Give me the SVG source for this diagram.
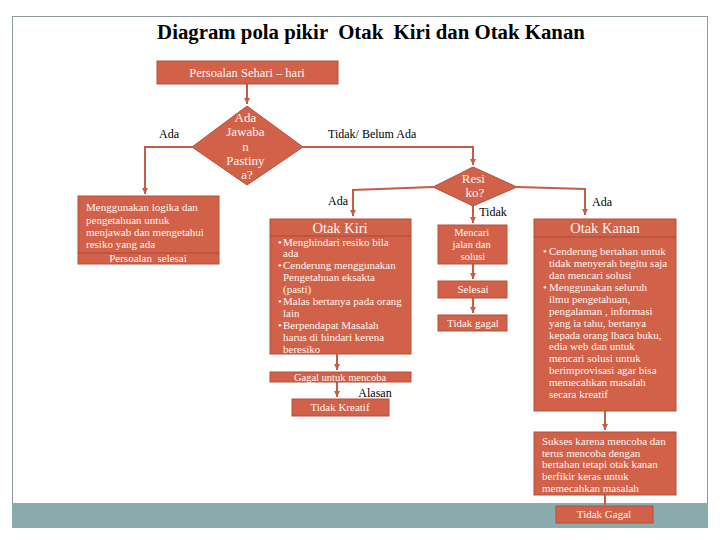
<svg xmlns="http://www.w3.org/2000/svg" width="720" height="540" viewBox="0 0 720 540">
<style>
text{font-family:"Liberation Serif","Times New Roman",serif}
.box{fill:#D2614A;stroke:#B4513B;stroke-width:1}
.div{stroke:#A9483A;stroke-width:1}
.wt{fill:#FFF6EF}
.lb{fill:#000;font-size:12px}
.con{fill:none;stroke:#C25E48;stroke-width:2}
</style>
<defs>
<marker id="ar" markerUnits="userSpaceOnUse" markerWidth="8" markerHeight="8" refX="6" refY="4" orient="auto">
<path d="M0,1 L6,4 L0,7 Z" fill="#C25E48"/>
</marker>
</defs>
<rect width="720" height="540" fill="#fff"/>
<rect x="12.5" y="16.5" width="695" height="511" fill="none" stroke="#8E9A9A" stroke-width="1"/>
<rect x="12" y="503" width="696" height="25" fill="#8AABAB"/>
<text x="371" y="39" text-anchor="middle" font-weight="bold" font-size="20.8" fill="#000" xml:space="preserve">Diagram pola pikir  Otak  Kiri dan Otak Kanan</text>

<g id="connectors">
<path class="con" d="M247,84 V104" marker-end="url(#ar)"/>
<path class="con" d="M192,147 H145 V194" marker-end="url(#ar)"/>
<path class="con" d="M303,147 H473 V165" marker-end="url(#ar)"/>
<path class="con" d="M433,187 L353,190 V216" marker-end="url(#ar)"/>
<path class="con" d="M517,187 L585,189 V215" marker-end="url(#ar)"/>
<path class="con" d="M473,206 V223" marker-end="url(#ar)"/>
<path class="con" d="M473,264 V279" marker-end="url(#ar)"/>
<path class="con" d="M473,298 V313" marker-end="url(#ar)"/>
<path class="con" d="M337,354 V370" marker-end="url(#ar)"/>
<path class="con" d="M337,382 V397" marker-end="url(#ar)"/>
<path class="con" d="M605,411 V430" marker-end="url(#ar)"/>
<path class="con" d="M605,495 V505"/>
<text class="lb" x="169" y="138" text-anchor="middle">Ada</text>
<text class="lb" x="328" y="138">Tidak/ Belum Ada</text>
<text class="lb" x="338" y="205" text-anchor="middle">Ada</text>
<text class="lb" x="602" y="206" text-anchor="middle">Ada</text>
<text class="lb" x="493" y="216" text-anchor="middle">Tidak</text>
<text class="lb" x="375" y="397" text-anchor="middle" font-size="11">Alasan</text>
</g>

<g id="persoalan">
<rect class="box" x="157" y="61" width="181" height="23"/>
<text class="wt" x="247" y="77" text-anchor="middle" font-size="12.5">Persoalan Sehari – hari</text>
</g>

<g id="jawaban">
<polygon class="box" points="247,106 303,147 247,185 192,147"/>
<text class="wt" font-size="13" text-anchor="middle">
<tspan x="247" y="122">Ada</tspan>
<tspan x="247" y="136">Jawaba</tspan>
<tspan x="247" y="151">n</tspan>
<tspan x="247" y="165">Pastiny</tspan>
<tspan x="247" y="179">a?</tspan>
</text>
</g>

<g id="logika">
<rect class="box" x="78" y="196" width="141" height="68"/>
<line class="div" x1="78" y1="253" x2="219" y2="253"/>
<text class="wt" font-size="11">
<tspan x="86" y="211">Menggunakan logika dan</tspan>
<tspan x="86" y="224">pengetahuan untuk</tspan>
<tspan x="86" y="236">menjawab dan mengetahui</tspan>
<tspan x="86" y="248">resiko yang ada</tspan>
</text>
<text class="wt" x="148" y="262" text-anchor="middle" font-size="11" xml:space="preserve">Persoalan  selesai</text>
</g>

<g id="resiko">
<polygon class="box" points="473,167 517,187 473,206 433,187"/>
<text class="wt" font-size="13" text-anchor="middle">
<tspan x="475" y="183">Resi</tspan>
<tspan x="475" y="197">ko?</tspan>
</text>
</g>

<g id="otakkiri">
<rect class="box" x="270" y="219" width="141" height="135"/>
<line class="div" x1="270" y1="236" x2="411" y2="236"/>
<text class="wt" x="340" y="233" text-anchor="middle" font-size="14.5">Otak Kiri</text>
<text class="wt" font-size="11">
<tspan x="278" y="246">•</tspan><tspan x="283" y="246">Menghindari resiko bila</tspan>
<tspan x="283" y="257">ada</tspan>
<tspan x="278" y="269">•</tspan><tspan x="283" y="269">Cenderung menggunakan</tspan>
<tspan x="283" y="281">Pengetahuan eksakta</tspan>
<tspan x="283" y="293">(pasti)</tspan>
<tspan x="278" y="305">•</tspan><tspan x="283" y="305">Malas bertanya pada orang</tspan>
<tspan x="283" y="317">lain</tspan>
<tspan x="278" y="329">•</tspan><tspan x="283" y="329">Berpendapat Masalah</tspan>
<tspan x="283" y="341">harus di hindari kerena</tspan>
<tspan x="283" y="353">beresiko</tspan>
</text>
</g>

<g id="gagal">
<rect class="box" x="270" y="372" width="141" height="10"/>
<text class="wt" x="340" y="381" text-anchor="middle" font-size="10.5">Gagal untuk mencoba</text>
</g>

<g id="tidakkreatif">
<rect class="box" x="292" y="399" width="97" height="17"/>
<text class="wt" x="340" y="411" text-anchor="middle" font-size="11">Tidak Kreatif</text>
</g>

<g id="mencari">
<rect class="box" x="438" y="225" width="69" height="39"/>
<text class="wt" font-size="10.5" text-anchor="middle">
<tspan x="473" y="236">Mencari</tspan>
<tspan x="473" y="248">jalan dan</tspan>
<tspan x="473" y="260">solusi</tspan>
</text>
</g>

<g id="selesai">
<rect class="box" x="438" y="281" width="69" height="17"/>
<text class="wt" x="473" y="293" text-anchor="middle" font-size="11">Selesai</text>
</g>

<g id="tidakgagal1">
<rect class="box" x="438" y="315" width="69" height="16"/>
<text class="wt" x="473" y="327" text-anchor="middle" font-size="11">Tidak gagal</text>
</g>

<g id="otakkanan">
<rect class="box" x="534" y="219" width="142" height="192"/>
<line class="div" x1="534" y1="237" x2="676" y2="237"/>
<text class="wt" x="605" y="233" text-anchor="middle" font-size="14.5">Otak Kanan</text>
<text class="wt" font-size="11">
<tspan x="543" y="255">•</tspan><tspan x="549" y="255">Cenderung bertahan untuk</tspan>
<tspan x="549" y="267">tidak menyerah begitu saja</tspan>
<tspan x="549" y="279">dan mencari solusi</tspan>
<tspan x="543" y="291">•</tspan><tspan x="549" y="291">Menggunakan seluruh</tspan>
<tspan x="549" y="303">ilmu pengetahuan,</tspan>
<tspan x="549" y="315">pengalaman , informasi</tspan>
<tspan x="549" y="327">yang ia tahu, bertanya</tspan>
<tspan x="549" y="339">kepada orang lbaca buku,</tspan>
<tspan x="549" y="350">edia web dan untuk</tspan>
<tspan x="549" y="362">mencari solusi untuk</tspan>
<tspan x="549" y="374">berimprovisasi agar bisa</tspan>
<tspan x="549" y="386">memecahkan masalah</tspan>
<tspan x="549" y="398">secara kreatif</tspan>
</text>
</g>

<g id="sukses">
<rect class="box" x="534" y="432" width="142" height="63"/>
<text class="wt" font-size="11">
<tspan x="542" y="445">Sukses karena mencoba dan</tspan>
<tspan x="542" y="457">terus mencoba dengan</tspan>
<tspan x="542" y="468">bertahan tetapi otak kanan</tspan>
<tspan x="542" y="480">berfikir keras untuk</tspan>
<tspan x="542" y="492">memecahkan masalah</tspan>
</text>
</g>

<g id="tidakgagal2">
<rect class="box" x="556" y="506" width="97" height="17"/>
<text class="wt" x="604" y="518" text-anchor="middle" font-size="11">Tidak Gagal</text>
</g>
</svg>
